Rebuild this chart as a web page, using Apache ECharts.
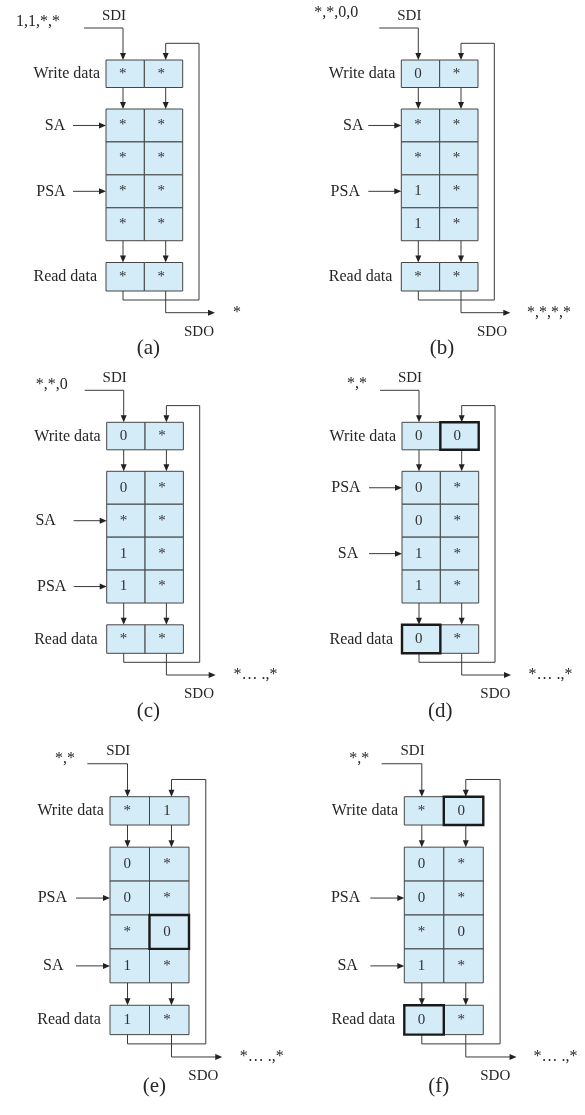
<!DOCTYPE html>
<html>
<head>
<meta charset="utf-8">
<script src="https://cdn.jsdelivr.net/npm/echarts@6/dist/echarts.min.js"></script>
<style>
html,body{margin:0;padding:0;background:#fff;}
#chart{width:585px;height:1115px;}
</style>
</head>
<body>
<div id="chart"></div>
<script>
// ---------------- data ----------------
const captions   = ['(a)', '(b)', '(c)', '(d)', '(e)', '(f)'];
const inputSeq   = ['1,1,*,*', '*,*,0,0', '*,*,0', '*,*', '*,*', '*,*'];
const outputSeq  = ['*', '*,*,*,*', '*\u2026 .,*', '*\u2026 .,*', '*\u2026 .,*', '*\u2026 .,*'];
const writeData  = [['*','*'], ['0','*'], ['0','*'], ['0','0'], ['*','1'], ['*','0']];
const memData = [
  [['*','*'], ['*','*'], ['*','*'], ['*','*']],
  [['*','*'], ['*','*'], ['1','*'], ['1','*']],
  [['0','*'], ['*','*'], ['1','*'], ['1','*']],
  [['0','*'], ['0','*'], ['1','*'], ['1','*']],
  [['0','*'], ['0','*'], ['*','0'], ['1','*']],
  [['0','*'], ['0','*'], ['*','0'], ['1','*']]
];
const readData   = [['*','*'], ['*','*'], ['*','*'], ['0','*'], ['1','*'], ['0','*']];
const saRow      = [0, 0, 1, 2, 3, 3];
const psaRow     = [2, 2, 3, 0, 1, 1];
const writeBold  = [null, null, null, 1, null, 1];     // highlighted column
const readBold   = [null, null, null, 0, null, 0];
const memBold    = [null, null, null, null, [2, 1], null]; // [row, col]
const rowLabels  = { sa: 'SA', psa: 'PSA', write: 'Write data', read: 'Read data', sdi: 'SDI', sdo: 'SDO' };

// ---------------- layout (styles / positions) ----------------
const PANEL_ORIGIN = [[106,60],[401.3,60],[106.7,422.3],[402,422.3],[110,796.7],[404.3,796.7]];
const PANEL_SCALE  = [1, 1, 1, 1, 1.03, 1.03];
const CW = 38.35;
const WR = [0, 27.5];
const MEM_TOP = 49, ROW_H = 32.93;
const RD = [202.5, 231];
const ARX = [17, 59.7];
const TXX = [16.7, 55.3];
const LOOP_X = 93;
const IN_X = [-46, -43, -39, -35, -34, -34];
const IN_Y = [-38.5, -47.5, -37.5, -38.5, -37, -37];
const CAP_X = [42.3, 40.7, 41.6, 38.3, 43, 33.4];
const CAP_Y = [288.3, 288.3, 289.4, 289.4, 281.5, 281.5];
const SDO_X = [93, 90.7, 92.3, 93.3, 90.6, 88.3];
const SA_X  = [-51, -48, -61, -54, -55, -55];
const PSA_X = [-55, -56, -55, -56, -56, -57];
const OUT_X = [127, 125.7, 126.7, 126.5, 126, 125.5];

const FONT = '"Liberation Serif","DejaVu Serif","Times New Roman",serif';
const CELL_FILL = '#d4ebf8';
const INK = '#262626';
const WIRE = '#3a3a3a';

function P(p, lx, ly) {
  const o = PANEL_ORIGIN[p], s = PANEL_SCALE[p];
  return [o[0] + lx * s, o[1] + ly * s];
}
const rowC = r => MEM_TOP + ROW_H * (r + 0.5);

// ---------------- build items ----------------
const cells = [], wires = [], texts = [];
function addCell(p, x0, y0, x1, y1, col, text, bold) {
  const a = P(p, x0, y0), b = P(p, x1, y1), t = P(p, TXX[col], (y0 + y1) / 2);
  cells.push({ a, b, t, text, bold: !!bold });
}
function addWire(p, pts, arrow) {
  wires.push({ pts: pts.map(q => P(p, q[0], q[1])), arrow });
}
function addText(p, lx, ly, text, align, size) {
  texts.push({ pos: P(p, lx, ly), text, align, size });
}

for (let p = 0; p < 6; p++) {
  for (let c = 0; c < 2; c++) {
    addCell(p, c * CW, WR[0], (c + 1) * CW, WR[1], c, writeData[p][c], writeBold[p] === c);
    for (let r = 0; r < 4; r++) {
      const mb = memBold[p];
      addCell(p, c * CW, MEM_TOP + r * ROW_H, (c + 1) * CW, MEM_TOP + (r + 1) * ROW_H, c,
              memData[p][r][c], mb && mb[0] === r && mb[1] === c);
    }
    addCell(p, c * CW, RD[0], (c + 1) * CW, RD[1], c, readData[p][c], readBold[p] === c);
    addWire(p, [[ARX[c], WR[1]], [ARX[c], MEM_TOP]], true);
    addWire(p, [[ARX[c], MEM_TOP + 4 * ROW_H], [ARX[c], RD[0]]], true);
  }
  addWire(p, [[-22, -32], [ARX[0], -32], [ARX[0], 0]], true);
  addWire(p, [[ARX[0], RD[1]], [ARX[0], 240], [LOOP_X, 240], [LOOP_X, -16.7], [ARX[1], -16.7], [ARX[1], 0]], true);
  addWire(p, [[ARX[1], RD[1]], [ARX[1], 252.7], [109, 252.7]], true);
  addWire(p, [[-33, rowC(saRow[p])], [0, rowC(saRow[p])]], true);
  addWire(p, [[-33, rowC(psaRow[p])], [0, rowC(psaRow[p])]], true);

  addText(p, IN_X[p], IN_Y[p], inputSeq[p], 'right', 16);
  addText(p, 8, -44, rowLabels.sdi, 'center', 15);
  addText(p, -6, 14, rowLabels.write, 'right', 16);
  addText(p, -9, 217, rowLabels.read, 'right', 16);
  addText(p, SA_X[p], rowC(saRow[p]), rowLabels.sa, 'center', 16);
  addText(p, PSA_X[p], rowC(psaRow[p]), rowLabels.psa, 'center', 16);
  addText(p, OUT_X[p], 252.7, outputSeq[p], 'left', 16);
  addText(p, SDO_X[p], 271.7, rowLabels.sdo, 'center', 15);
  addText(p, CAP_X[p], CAP_Y[p], captions[p], 'center', 21);
}

// ---------------- render ----------------
const chart = echarts.init(document.getElementById('chart'), null, { renderer: 'canvas' });

function renderCell(params, api) {
  const c = cells[params.dataIndex];
  const a = api.coord(c.a), b = api.coord(c.b), t = api.coord(c.t);
  return {
    type: 'group',
    children: [
      { type: 'rect', z2: c.bold ? 5 : 1,
        shape: { x: a[0], y: a[1], width: b[0] - a[0], height: b[1] - a[1] },
        style: { fill: CELL_FILL, stroke: c.bold ? '#1a1a1a' : '#454545', lineWidth: c.bold ? 2.4 : 1 } },
      { type: 'text', z2: 10,
        style: { text: c.text, x: t[0], y: t[1], fill: '#333', font: '15px ' + FONT,
                 align: 'center', verticalAlign: 'middle' } }
    ]
  };
}
function renderWire(params, api) {
  const w = wires[params.dataIndex];
  const pts = w.pts.map(q => api.coord(q));
  const children = [];
  const n = pts.length;
  let last = pts[n - 1];
  const prev = pts[n - 2];
  const dx = last[0] - prev[0], dy = last[1] - prev[1];
  const len = Math.sqrt(dx * dx + dy * dy) || 1;
  const ux = dx / len, uy = dy / len;
  const L = 7, H = 3;
  const linePts = pts.slice();
  if (w.arrow) linePts[n - 1] = [last[0] - ux * (L - 1), last[1] - uy * (L - 1)];
  children.push({ type: 'polyline', z2: 2, shape: { points: linePts },
                  style: { stroke: WIRE, lineWidth: 1, fill: null } });
  if (w.arrow) {
    const bx = last[0] - ux * L, by = last[1] - uy * L;
    children.push({ type: 'polygon', z2: 3,
      shape: { points: [last, [bx - uy * H, by + ux * H], [bx + uy * H, by - ux * H]] },
      style: { fill: '#222' } });
  }
  return { type: 'group', children };
}
function renderText(params, api) {
  const t = texts[params.dataIndex];
  const p = api.coord(t.pos);
  return { type: 'text', z2: 10,
    style: { text: t.text, x: p[0], y: p[1], fill: INK, font: t.size + 'px ' + FONT,
             align: t.align, verticalAlign: 'middle' } };
}

chart.setOption({
  animation: false,
  backgroundColor: '#ffffff',
  grid: { left: 0, right: 0, top: 0, bottom: 0 },
  xAxis: { type: 'value', min: 0, max: 585, show: false },
  yAxis: { type: 'value', min: 0, max: 1115, inverse: true, show: false },
  series: [
    { type: 'custom', name: 'wires', renderItem: renderWire, clip: false,
      data: wires.map(w => [w.pts[0][0], w.pts[0][1]]) },
    { type: 'custom', name: 'cells', renderItem: renderCell, clip: false,
      data: cells.map(c => [c.a[0], c.a[1]]) },
    { type: 'custom', name: 'texts', renderItem: renderText, clip: false,
      data: texts.map(t => [t.pos[0], t.pos[1]]) }
  ]
});
</script>
</body>
</html>
